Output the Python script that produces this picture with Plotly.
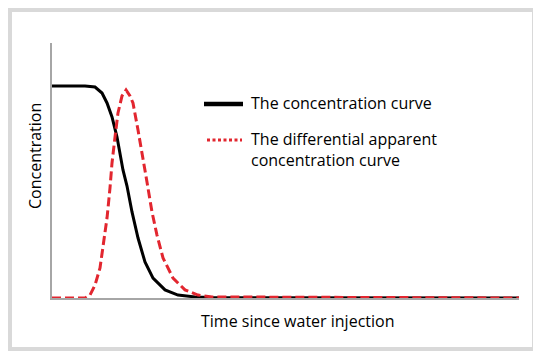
import plotly.graph_objects as go

# Data (time in arbitrary units 0-100, concentration normalised to plateau = 1)
conc_time = [0.0, 7.07, 9.21, 10.71, 11.78, 12.85, 13.92, 14.56, 15.20, 16.06, 17.13,
             18.42, 19.91, 21.63, 24.20, 26.98, 30.62, 34.26, 100.0]
conc_values = [1.000, 1.000, 0.995, 0.967, 0.920, 0.854, 0.759, 0.684, 0.604, 0.528, 0.406,
               0.283, 0.170, 0.094, 0.038, 0.014, 0.005, 0.002, 0.0]

diff_time = [0.0, 7.07, 8.14, 9.21, 10.28, 10.92, 11.78, 12.42, 12.85, 13.49, 14.13, 14.99,
             15.85, 16.70, 17.34, 18.42, 19.49, 20.34, 21.41, 22.48, 23.77, 25.91, 28.48,
             31.26, 34.26, 100.0]
diff_values = [0.0, 0.0, 0.014, 0.061, 0.142, 0.250, 0.377, 0.519, 0.637, 0.759, 0.873, 0.953,
               0.981, 0.953, 0.920, 0.792, 0.665, 0.547, 0.406, 0.297, 0.189, 0.094, 0.038,
               0.014, 0.005, 0.0]

series_names = ["The concentration curve", "The differential apparent<br>concentration curve"]
x_title = "Time since water injection"
y_title = "Concentration"

# page body has an 8px margin, so the figure is drawn 8px smaller and offset
OFF = 8
W, H = 541 - OFF, 357 - OFF
# plot-area edges in reference-window pixels
L, R, T, B = 52, 519, 43, 298
FONT = "Open Sans"
RED = "#e2262f"
AXIS = "#a6a6a6"


def px_x(p):
    return (p - L) / (R - L)


def px_y(p):
    return (B - p) / (B - T)


fig = go.Figure()
fig.add_trace(go.Scatter(x=conc_time, y=conc_values, mode="lines", name=series_names[0],
                         line=dict(color="black", width=3), showlegend=False))
fig.add_trace(go.Scatter(x=diff_time, y=diff_values, mode="lines", name=series_names[1],
                         line=dict(color=RED, width=3, dash="9px,4px"), showlegend=False))

shapes = [
    # outer frame
    dict(type="rect", xref="paper", yref="paper", x0=px_x(10), x1=px_x(534), y0=px_y(349), y1=px_y(10),
         line=dict(color="#d9d9d9", width=4), fillcolor="rgba(0,0,0,0)", layer="below"),
    # legend samples
    dict(type="line", xref="paper", yref="paper", x0=px_x(204), x1=px_x(243), y0=px_y(104), y1=px_y(104),
         line=dict(color="black", width=4.5)),
    dict(type="line", xref="paper", yref="paper", x0=px_x(207), x1=px_x(242), y0=px_y(140), y1=px_y(140),
         line=dict(color=RED, width=3, dash="3px,2.5px")),
]

annotations = [
    dict(text=series_names[0], xref="paper", yref="paper", x=px_x(249), y=px_y(103),
         xanchor="left", yanchor="middle", showarrow=False, font=dict(family=FONT, size=16, color="black")),
    dict(text=series_names[1], xref="paper", yref="paper", x=px_x(249), y=px_y(149),
         xanchor="left", yanchor="middle", showarrow=False, align="left",
         font=dict(family=FONT, size=16, color="black")),
    dict(text=x_title, xref="paper", yref="paper", x=px_x(297), y=px_y(321),
         xanchor="center", yanchor="middle", showarrow=False, font=dict(family=FONT, size=16, color="black")),
    dict(text=y_title, xref="paper", yref="paper", x=px_x(35), y=px_y(156), textangle=-90,
         xanchor="center", yanchor="middle", showarrow=False, font=dict(family=FONT, size=16, color="black")),
]

fig.update_layout(
    width=W, height=H,
    margin=dict(l=L - OFF, r=W - (R - OFF), t=T - OFF, b=H - (B - OFF), autoexpand=False),
    paper_bgcolor="white", plot_bgcolor="white",
    shapes=shapes, annotations=annotations,
    font=dict(family=FONT, size=16, color="black"),
    showlegend=False,
)
fig.update_xaxes(range=[0, 100], showgrid=False, zeroline=False, showticklabels=False, ticks="",
                 showline=True, linecolor=AXIS, linewidth=1.5)
fig.update_yaxes(range=[0, (B - T) / 212], showgrid=False, zeroline=False, showticklabels=False, ticks="",
                 showline=True, linecolor=AXIS, linewidth=1.5)

fig.write_html("out.html")
